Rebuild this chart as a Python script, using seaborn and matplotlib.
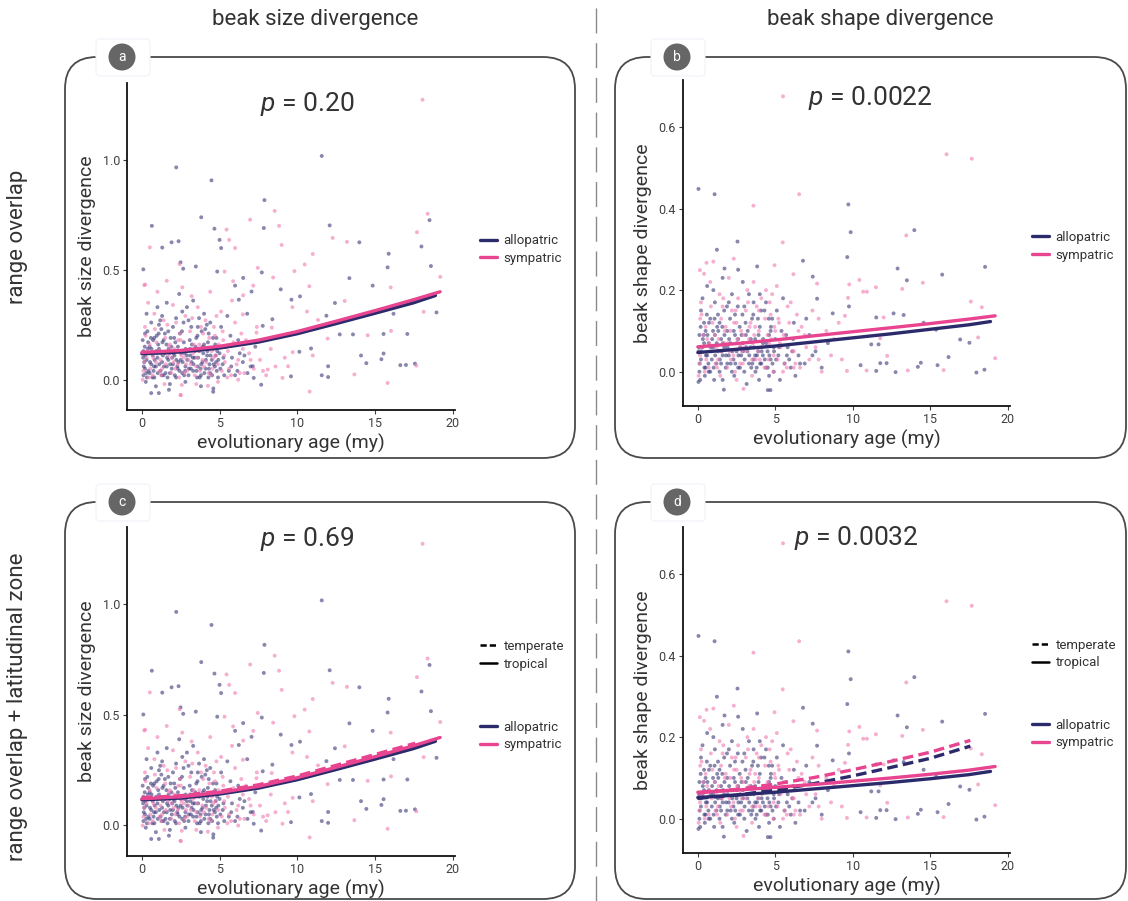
import numpy as np
import pandas as pd
import matplotlib
matplotlib.use('Agg')
import matplotlib.pyplot as plt
import seaborn as sns
from matplotlib.patches import FancyBboxPatch, Circle
from matplotlib.lines import Line2D

# ---- data ----
# beak size divergence vs evolutionary age (panels a and c share the points)
size_allopatric = [
    (11.58, 1.018), (2.21, 0.966), (4.48, 0.907), (7.89, 0.817), (3.82, 0.739), (0.64, 0.700),
    (7.85, 0.690), (12.09, 0.702), (18.52, 0.726), (18.0, 0.606), (4.67, 0.687), (5.0, 0.636),
    (1.91, 0.625), (2.36, 0.630), (1.31, 0.601), (5.10, 0.599), (14.0, 0.625), (15.89, 0.573),
    (15.82, 0.511), (0.09, 0.502), (2.49, 0.534), (2.66, 0.505), (3.47, 0.515), (4.85, 0.492),
    (7.72, 0.488), (8.94, 0.411), (13.36, 0.462), (14.86, 0.428), (18.61, 0.517), (18.97, 0.306),
    (16.2, 0.300), (17.09, 0.208), (15.56, 0.208), (13.59, 0.206), (12.74, 0.206), (12.43, 0.349),
    (11.88, 0.291), (9.63, 0.364), (10.18, 0.379), (14.11, 0.110), (14.45, 0.075), (16.64, 0.066),
    (17.0, 0.067), (17.58, 0.073), (15.56, 0.119), (15.42, 0.093), (11.99, 0.061), (11.58, 0.020),
    (11.99, 0.012), (10.89, 0.142), (10.14, 0.127), (9.6, 0.015), (8.4, 0.275), (7.78, 0.245),
    (6.78, 0.300), (6.24, 0.364), (6.0, 0.428), (6.52, 0.463), (7.06, 0.401), (7.14, 0.061),
    (7.2, 0.008), (7.68, -0.023), (4.59, -0.055), (0.6, -0.061), (1.09, -0.061), (1.74, -0.046),
    (0.1, 0.02), (0.2, 0.05), (0.3, 0.09), (0.1, 0.13), (0.4, 0.17), (0.2, 0.21), (0.5, 0.03),
    (0.6, 0.07), (0.7, 0.11), (0.5, 0.15), (0.8, 0.01), (0.9, 0.06), (1.0, 0.10), (0.8, 0.19),
    (1.1, 0.25), (1.2, 0.04), (1.3, 0.08), (1.1, 0.14), (1.4, 0.02), (1.5, 0.12), (1.6, 0.06),
    (1.4, 0.18), (1.7, 0.09), (1.8, 0.03), (1.9, 0.15), (2.0, 0.07), (1.7, 0.22), (2.1, 0.11),
    (2.2, 0.01), (2.3, 0.05), (2.4, 0.13), (2.5, 0.09), (2.2, 0.28), (2.6, 0.03), (2.7, 0.17),
    (2.8, 0.06), (2.9, 0.11), (3.0, 0.02), (3.1, 0.14), (3.2, 0.08), (2.9, 0.33), (3.3, 0.04),
    (3.4, 0.10), (3.5, 0.19), (3.6, 0.06), (3.7, 0.13), (3.8, 0.02), (3.9, 0.08), (4.0, 0.16),
    (4.1, 0.05), (4.2, 0.11), (4.3, 0.21), (4.4, 0.03), (4.5, 0.09), (4.6, 0.14), (4.7, 0.06),
    (4.8, 0.19), (4.9, 0.01), (5.0, 0.12), (5.2, 0.07), (5.4, 0.15), (5.6, 0.04), (5.8, 0.10),
    (6.0, 0.02), (6.2, 0.18), (6.5, 0.08), (0.3, 0.30), (0.6, 0.26), (1.0, 0.33), (1.3, 0.29),
    (1.6, 0.35), (2.0, 0.24), (2.4, 0.39), (2.6, 0.31), (3.0, 0.27), (3.3, 0.36), (3.6, 0.24),
    (4.0, 0.30), (4.4, 0.26), (5.1, 0.24), (5.5, 0.29), (0.15, 0.08), (0.45, 0.12), (0.75, 0.04),
    (1.05, 0.16), (1.35, 0.11), (1.65, 0.01), (1.95, 0.10), (2.35, 0.08), (2.75, 0.12),
    (3.15, 0.05), (3.55, 0.01), (3.95, 0.12), (4.35, 0.07), (4.75, 0.11), (5.3, 0.02),
    (0.25, -0.01), (0.9, -0.03), (1.8, -0.02), (2.8, -0.01), (3.8, -0.03), (4.6, -0.04),
    (0.05, 0.18), (0.35, 0.22), (0.95, 0.20), (1.25, 0.23), (1.85, 0.19), (2.15, 0.17),
    (2.45, 0.21), (3.45, 0.15), (3.85, 0.22), (4.25, 0.17), (4.85, 0.13), (5.7, 0.20),
    (6.3, 0.12), (7.0, 0.06), (7.3, 0.15), (6.8, 0.03),
]
size_allopatric_dense = [
    (0.12, 0.06), (0.22, 0.11), (0.32, 0.01), (0.42, 0.04), (0.52, 0.08), (0.62, 0.14),
    (0.72, 0.18), (0.82, 0.09), (0.92, 0.13), (1.02, 0.03), (1.12, 0.07), (1.22, 0.12),
    (1.32, 0.17), (1.42, 0.06), (1.52, 0.03), (1.62, 0.10), (1.72, 0.14), (1.82, 0.07),
    (1.92, 0.05), (2.02, 0.12), (2.12, 0.02), (2.22, 0.09), (2.32, 0.15), (2.42, 0.04),
    (2.52, 0.12), (2.62, 0.08), (2.72, 0.02), (2.82, 0.14), (2.92, 0.09), (3.02, 0.05),
    (3.12, 0.11), (3.22, 0.16), (3.32, 0.07), (3.42, 0.13), (3.52, 0.04), (3.62, 0.10),
    (3.72, 0.01), (3.82, 0.07), (3.92, 0.15), (4.02, 0.03), (4.12, 0.09), (4.22, 0.13),
    (4.32, 0.05), (4.42, 0.11), (4.52, 0.02), (4.62, 0.07), (4.72, 0.16), (4.82, 0.04),
    (4.92, 0.09), (5.05, 0.05), (0.18, 0.15), (0.58, 0.19), (1.08, 0.21), (1.58, 0.16),
    (2.08, 0.19), (2.58, 0.22), (3.08, 0.18), (3.58, 0.20), (4.08, 0.23), (4.58, 0.19),
    (0.28, 0.03), (0.78, 0.06), (1.28, 0.02), (1.78, 0.12), (2.28, 0.06), (2.78, 0.04),
    (3.28, 0.10), (3.78, 0.05), (4.28, 0.01), (4.78, 0.08), (5.25, 0.10), (5.75, 0.06),
    (6.15, 0.04), (6.6, 0.11), (0.08, 0.10), (0.38, 0.14), (0.68, 0.01), (0.98, 0.12),
    (1.18, 0.27), (1.48, 0.21), (2.68, 0.26), (3.18, 0.24), (3.68, 0.28), (4.18, 0.25),
]
size_sympatric = [
    (18.07, 1.274), (8.55, 0.768), (6.97, 0.728), (8.83, 0.700), (18.4, 0.755), (17.71, 0.671),
    (5.45, 0.683), (5.62, 0.636), (0.51, 0.602), (6.0, 0.599), (9.0, 0.613), (12.28, 0.645),
    (13.2, 0.627), (11.0, 0.572), (10.48, 0.524), (9.82, 0.494), (0.21, 0.433), (2.43, 0.526),
    (5.32, 0.492), (7.46, 0.509), (8.45, 0.465), (10.78, 0.425), (16.02, 0.420), (19.21, 0.468),
    (18.14, 0.309), (16.04, 0.222), (14.54, 0.202), (11.96, 0.187), (13.06, 0.358), (11.34, 0.272),
    (9.69, 0.330), (10.63, 0.310), (17.67, 0.064), (15.82, -0.015), (13.68, 0.024), (10.8, -0.054),
    (11.0, 0.110), (9.71, 0.125), (9.41, 0.061), (9.05, 0.008), (8.36, 0.237), (7.38, 0.214),
    (6.5, 0.297), (6.52, 0.384), (5.87, 0.448), (7.17, 0.428), (8.1, 0.046), (4.25, -0.028),
    (2.49, -0.07), (2.57, -0.024),
    (0.1, 0.04), (0.3, 0.10), (0.5, 0.16), (0.2, 0.24), (0.7, 0.02), (0.9, 0.08), (1.1, 0.13),
    (0.8, 0.30), (1.3, 0.05), (1.5, 0.19), (1.7, 0.11), (1.4, 0.27), (1.9, 0.03), (2.1, 0.14),
    (2.3, 0.07), (2.0, 0.34), (2.5, 0.18), (2.7, 0.10), (2.9, 0.04), (3.1, 0.22), (3.3, 0.12),
    (3.5, 0.06), (3.2, 0.38), (3.7, 0.16), (3.9, 0.09), (4.1, 0.27), (4.3, 0.03), (4.5, 0.13),
    (4.7, 0.20), (4.9, 0.07), (5.1, 0.31), (5.3, 0.11), (5.6, 0.05), (5.9, 0.17), (6.2, 0.09),
    (6.6, 0.03), (6.9, 0.12), (7.2, 0.05), (7.6, 0.09), (8.0, 0.02), (8.3, 0.14), (0.4, 0.35),
    (1.0, 0.40), (1.6, 0.45), (2.6, 0.42), (3.6, 0.33), (4.4, 0.40), (5.8, 0.36), (0.6, 0.12),
    (1.2, 0.09), (1.8, 0.16), (2.4, 0.01), (3.0, 0.09), (3.4, 0.02), (4.0, 0.06), (4.6, 0.10),
    (5.0, 0.15), (5.5, 0.01), (6.0, 0.26), (6.4, 0.21), (0.15, 0.43), (2.2, 0.26), (2.8, 0.29),
    (3.8, 0.24), (4.8, 0.29), (5.2, 0.22), (6.7, 0.18), (7.4, 0.24), (8.6, 0.06), (9.2, 0.10),
    (0.05, 0.00), (1.45, -0.02), (2.5, -0.07), (3.5, -0.02), (4.9, -0.01), (6.2, 0.00),
]
size_sympatric_dense = [
    (0.14, 0.08), (0.34, 0.13), (0.54, 0.05), (0.74, 0.10), (0.94, 0.17), (1.14, 0.04),
    (1.34, 0.12), (1.54, 0.07), (1.74, 0.15), (1.94, 0.10), (2.14, 0.05), (2.34, 0.18),
    (2.54, 0.11), (2.74, 0.03), (2.94, 0.13), (3.14, 0.07), (3.34, 0.16), (3.54, 0.10),
    (3.74, 0.04), (3.94, 0.14), (4.14, 0.08), (4.34, 0.19), (4.54, 0.05), (4.74, 0.11),
    (4.94, 0.16), (5.14, 0.04), (5.34, 0.08), (5.54, 0.13), (5.74, 0.02), (6.1, 0.07),
    (6.5, 0.14), (7.0, 0.09), (7.8, 0.04), (0.24, 0.20), (0.84, 0.23), (1.64, 0.25),
    (2.44, 0.21), (3.24, 0.28), (3.94, 0.21), (4.64, 0.24), (0.44, 0.01), (1.24, 0.02),
    (2.04, 0.08), (2.84, 0.07), (3.64, 0.13), (4.44, 0.02), (5.24, 0.18), (6.3, 0.03),
]

# beak shape divergence vs evolutionary age (panels b and d share the points)
shape_allopatric = [
    (0.04, 0.448), (1.08, 0.435), (9.72, 0.410), (9.87, 0.342), (13.98, 0.347), (2.56, 0.319),
    (1.23, 0.299), (9.65, 0.281), (6.79, 0.272), (1.72, 0.253), (3.83, 0.258), (18.55, 0.257),
    (12.9, 0.253), (15.78, 0.238), (7.42, 0.233), (13.5, 0.224), (7.7, 0.179), (9.76, 0.160),
    (8.71, 0.143), (12.64, 0.143), (13.29, 0.139), (11.52, 0.133), (14.58, 0.120), (15.39, 0.103),
    (16.94, 0.079), (17.54, 0.071), (16.19, 0.036), (14.4, 0.022), (14.21, 0.012), (15.48, 0.016),
    (17.99, -0.002), (18.51, 0.005), (12.77, -0.001), (11.52, 0.002), (10.51, 0.016),
    (11.78, 0.021), (12.19, 0.021), (11.67, 0.067), (11.2, 0.067), (1.68, -0.044), (4.52, -0.045),
    (4.69, -0.045), (0.04, -0.025),
    (0.1, 0.00), (0.2, 0.03), (0.3, 0.06), (0.1, 0.09), (0.4, 0.12), (0.2, 0.15), (0.5, 0.01),
    (0.6, 0.04), (0.7, 0.07), (0.5, 0.10), (0.8, 0.00), (0.9, 0.03), (1.0, 0.06), (0.8, 0.13),
    (1.1, 0.17), (1.2, 0.02), (1.3, 0.05), (1.1, 0.09), (1.4, 0.00), (1.5, 0.08), (1.6, 0.04),
    (1.4, 0.12), (1.7, 0.06), (1.8, 0.01), (1.9, 0.10), (2.0, 0.04), (1.7, 0.15), (2.1, 0.07),
    (2.2, 0.00), (2.3, 0.03), (2.4, 0.09), (2.5, 0.05), (2.2, 0.19), (2.6, 0.01), (2.7, 0.11),
    (2.8, 0.04), (2.9, 0.07), (3.0, 0.00), (3.1, 0.09), (3.2, 0.05), (2.9, 0.22), (3.3, 0.02),
    (3.4, 0.06), (3.5, 0.13), (3.6, 0.03), (3.7, 0.08), (3.8, 0.01), (3.9, 0.05), (4.0, 0.11),
    (4.1, 0.02), (4.2, 0.07), (4.3, 0.15), (4.4, 0.01), (4.5, 0.05), (4.6, 0.09), (4.7, 0.03),
    (4.8, 0.13), (4.9, 0.00), (5.0, 0.08), (5.2, 0.04), (5.4, 0.10), (5.6, 0.02), (5.8, 0.06),
    (6.0, 0.01), (6.2, 0.12), (6.5, 0.04), (0.3, 0.18), (0.6, 0.21), (1.0, 0.20), (1.3, 0.14),
    (1.6, 0.23), (2.0, 0.17), (2.4, 0.14), (2.6, 0.25), (3.0, 0.16), (3.3, 0.19), (3.6, 0.17),
    (4.0, 0.19), (4.4, 0.17), (5.1, 0.15), (5.5, 0.18), (0.15, -0.02), (0.45, -0.01),
    (1.05, -0.02), (1.6, -0.02), (2.35, -0.01), (3.15, -0.03), (3.95, -0.02), (4.6, -0.01),
    (5.3, -0.02), (6.3, -0.01), (6.9, 0.02), (7.2, 0.09), (7.6, 0.05), (8.0, 0.01), (8.4, 0.07),
    (7.0, 0.13), (0.05, 0.05), (0.7, 0.00), (1.25, 0.11), (1.9, 0.02), (2.75, 0.06), (3.45, 0.01),
    (4.2, 0.04), (4.9, 0.06), (5.7, 0.09), (6.1, 0.05), (0.4, 0.07), (1.5, 0.02), (2.6, 0.08),
    (3.7, 0.04), (4.7, 0.10), (5.9, 0.03),
]
shape_allopatric_dense = [
    (0.12, 0.02), (0.22, 0.05), (0.32, 0.08), (0.42, 0.01), (0.52, 0.04), (0.62, 0.09),
    (0.72, 0.12), (0.82, 0.06), (0.92, 0.08), (1.02, 0.01), (1.12, 0.04), (1.22, 0.07),
    (1.32, 0.10), (1.42, 0.03), (1.52, 0.05), (1.62, 0.07), (1.72, 0.09), (1.82, 0.04),
    (1.92, 0.06), (2.02, 0.08), (2.12, 0.02), (2.22, 0.05), (2.32, 0.10), (2.42, 0.02),
    (2.52, 0.07), (2.62, 0.04), (2.72, 0.01), (2.82, 0.09), (2.92, 0.05), (3.02, 0.03),
    (3.12, 0.06), (3.22, 0.10), (3.32, 0.04), (3.42, 0.08), (3.52, 0.02), (3.62, 0.06),
    (3.72, 0.00), (3.82, 0.04), (3.92, 0.09), (4.02, 0.02), (4.12, 0.05), (4.22, 0.08),
    (4.32, 0.03), (4.42, 0.07), (4.52, 0.01), (4.62, 0.04), (4.72, 0.11), (4.82, 0.02),
    (4.92, 0.05), (5.05, 0.03), (0.18, 0.11), (0.58, 0.14), (1.08, 0.13), (1.58, 0.11),
    (2.08, 0.13), (2.58, 0.16), (3.08, 0.12), (3.58, 0.14), (4.08, 0.15), (4.58, 0.13),
    (5.25, 0.06), (5.75, 0.04), (6.15, 0.08), (6.6, 0.02), (7.4, 0.04), (0.08, 0.06),
    (0.38, 0.09), (0.68, 0.02), (0.98, 0.10), (1.88, 0.16), (2.88, 0.14), (3.88, 0.13),
]
shape_sympatric = [
    (5.5, 0.675), (16.06, 0.533), (17.69, 0.522), (6.54, 0.435), (3.59, 0.407), (13.46, 0.334),
    (5.48, 0.317), (2.32, 0.277), (0.56, 0.267), (0.13, 0.249), (4.95, 0.261), (6.17, 0.239),
    (10.43, 0.225), (9.78, 0.214), (7.70, 0.216), (11.5, 0.207), (13.2, 0.203), (14.53, 0.218),
    (10.68, 0.196), (10.92, 0.196), (9.7, 0.181), (17.63, 0.172), (18.34, 0.158), (9.5, 0.137),
    (12.0, 0.133), (18.1, 0.084), (19.2, 0.033), (15.87, 0.004), (13.56, 0.003), (10.9, 0.003),
    (9.63, 0.002), (12.23, 0.039), (11.78, 0.082), (2.95, -0.042),
    (0.1, 0.02), (0.3, 0.06), (0.5, 0.11), (0.2, 0.17), (0.7, 0.01), (0.9, 0.05), (1.1, 0.09),
    (0.8, 0.22), (1.3, 0.03), (1.5, 0.13), (1.7, 0.07), (1.4, 0.19), (1.9, 0.01), (2.1, 0.10),
    (2.3, 0.04), (2.0, 0.23), (2.5, 0.12), (2.7, 0.06), (2.9, 0.02), (3.1, 0.15), (3.3, 0.08),
    (3.5, 0.03), (3.2, 0.20), (3.7, 0.11), (3.9, 0.05), (4.1, 0.18), (4.3, 0.01), (4.5, 0.09),
    (4.7, 0.14), (4.9, 0.04), (5.1, 0.21), (5.3, 0.07), (5.6, 0.02), (5.9, 0.12), (6.2, 0.05),
    (6.6, 0.01), (6.9, 0.09), (7.2, 0.03), (7.6, 0.06), (8.0, 0.00), (8.3, 0.10), (0.4, 0.24),
    (1.0, 0.27), (1.6, 0.16), (2.6, 0.18), (3.6, 0.22), (4.4, 0.20), (5.8, 0.16), (0.6, 0.08),
    (1.2, 0.06), (1.8, 0.11), (2.4, 0.00), (3.0, 0.06), (3.4, 0.12), (4.0, 0.03), (4.6, 0.07),
    (5.0, 0.10), (5.5, 0.00), (6.0, 0.17), (6.4, 0.14), (0.15, 0.13), (2.2, 0.15), (2.8, 0.10),
    (3.8, 0.16), (4.8, 0.19), (5.2, 0.13), (6.7, 0.11), (7.4, 0.15), (8.6, 0.04), (9.1, 0.12),
    (0.05, -0.01), (1.45, -0.01), (2.5, -0.02), (3.5, -0.01), (4.9, 0.00), (6.2, 0.01),
    (7.8, 0.13), (8.8, 0.08), (9.3, 0.03),
]
shape_sympatric_dense = [
    (0.14, 0.04), (0.34, 0.09), (0.54, 0.03), (0.74, 0.07), (0.94, 0.12), (1.14, 0.02),
    (1.34, 0.08), (1.54, 0.05), (1.74, 0.10), (1.94, 0.07), (2.14, 0.03), (2.34, 0.12),
    (2.54, 0.08), (2.74, 0.02), (2.94, 0.09), (3.14, 0.05), (3.34, 0.11), (3.54, 0.07),
    (3.74, 0.03), (3.94, 0.10), (4.14, 0.06), (4.34, 0.13), (4.54, 0.03), (4.74, 0.08),
    (4.94, 0.11), (5.14, 0.03), (5.34, 0.06), (5.54, 0.09), (5.74, 0.01), (6.1, 0.05),
    (6.5, 0.10), (7.0, 0.06), (7.8, 0.03), (0.24, 0.14), (0.84, 0.16), (1.64, 0.18),
    (2.44, 0.15), (3.24, 0.17), (3.94, 0.15), (4.64, 0.17), (0.44, 0.00), (1.24, 0.01),
    (2.04, 0.05), (2.84, 0.05), (3.64, 0.09), (4.44, 0.01), (5.24, 0.12), (6.3, 0.02),
]

# fitted curves, read at a few ages
fit_age_allo = [0, 2.5, 5, 7.5, 10, 12.5, 15, 17.5, 18.9]
fit_age_sym = [0, 2.5, 5, 7.5, 10, 12.5, 15, 17.5, 19.2]
fit_age_temp = [0, 2.5, 5, 7.5, 10, 12.5, 15, 17.6]

a_allo = [0.118, 0.126, 0.144, 0.171, 0.209, 0.255, 0.302, 0.350, 0.383]
a_sym = [0.124, 0.133, 0.152, 0.180, 0.219, 0.266, 0.314, 0.364, 0.400]

b_allo = [0.047, 0.055, 0.063, 0.073, 0.083, 0.093, 0.104, 0.115, 0.123]
b_sym = [0.061, 0.069, 0.078, 0.088, 0.098, 0.108, 0.118, 0.129, 0.137]

c_allo_trop = [0.116, 0.124, 0.142, 0.169, 0.207, 0.253, 0.300, 0.348, 0.381]
c_sym_trop = [0.121, 0.130, 0.149, 0.177, 0.216, 0.263, 0.311, 0.361, 0.398]
c_allo_temp = [0.121, 0.129, 0.148, 0.176, 0.215, 0.262, 0.310, 0.360]
c_sym_temp = [0.125, 0.135, 0.155, 0.184, 0.224, 0.272, 0.321, 0.372]

d_allo_trop = [0.052, 0.058, 0.065, 0.073, 0.081, 0.089, 0.098, 0.108, 0.116]
d_sym_trop = [0.065, 0.070, 0.077, 0.084, 0.092, 0.100, 0.109, 0.119, 0.128]
d_allo_temp = [0.050, 0.058, 0.070, 0.086, 0.105, 0.126, 0.148, 0.178]
d_sym_temp = [0.063, 0.072, 0.085, 0.101, 0.120, 0.141, 0.163, 0.192]

p_values = ['0.20', '0.0022', '0.69', '0.0032']
panel_letters = ['a', 'b', 'c', 'd']
col_titles = ['beak size divergence', 'beak shape divergence']
row_titles = ['range overlap', 'range overlap + latitudinal zone']

# ---- styling ----
sns.set_theme(style='white')
plt.rcParams['font.family'] = ['Roboto', 'DejaVu Sans']
plt.rcParams['mathtext.fontset'] = 'custom'
plt.rcParams['mathtext.it'] = 'Roboto:italic'
plt.rcParams['mathtext.rm'] = 'Roboto'

navy = '#2b2a6b'
pink = '#e8448f'
pt_pal = {'allopatric': '#3a3878', 'sympatric': '#f07ab2'}
line_pal = {'allopatric': navy, 'sympatric': pink}
text_col = '#333333'
tick_col = '#404040'
fw = 'normal'


def points_df(allo, sym):
    df = pd.DataFrame(allo + sym, columns=['age', 'div'])
    df['overlap'] = ['allopatric'] * len(allo) + ['sympatric'] * len(sym)
    return df


def fit_df(parts):
    rows = []
    for overlap, zone, ages, vals in parts:
        for x, y in zip(ages, vals):
            rows.append((x, y, overlap, zone))
    return pd.DataFrame(rows, columns=['age', 'fit', 'overlap', 'zone'])


size_pts = points_df(size_allopatric + size_allopatric_dense,
                     size_sympatric + size_sympatric_dense)
shape_pts = points_df(shape_allopatric + shape_allopatric_dense,
                      shape_sympatric + shape_sympatric_dense)

fits = [
    fit_df([('allopatric', 'tropical', fit_age_allo, a_allo),
            ('sympatric', 'tropical', fit_age_sym, a_sym)]),
    fit_df([('allopatric', 'tropical', fit_age_allo, b_allo),
            ('sympatric', 'tropical', fit_age_sym, b_sym)]),
    fit_df([('allopatric', 'temperate', fit_age_temp, c_allo_temp),
            ('sympatric', 'temperate', fit_age_temp, c_sym_temp),
            ('allopatric', 'tropical', fit_age_allo, c_allo_trop),
            ('sympatric', 'tropical', fit_age_sym, c_sym_trop)]),
    fit_df([('allopatric', 'temperate', fit_age_temp, d_allo_temp),
            ('sympatric', 'temperate', fit_age_temp, d_sym_temp),
            ('allopatric', 'tropical', fit_age_allo, d_allo_trop),
            ('sympatric', 'tropical', fit_age_sym, d_sym_trop)]),
]

W, H = 1128, 901
fig = plt.figure(figsize=(W / 100, H / 100), dpi=100)
inch = fig.dpi_scale_trans


def px(x, y):
    return x / 100, (H - y) / 100


# rounded panel frames (pixel boxes: left, top, right, bottom)
frames = [(65, 57, 575, 458), (615, 57, 1126, 458), (65, 502, 575, 899), (615, 502, 1126, 899)]
for l, t, r, b in frames:
    x0, y0 = px(l, b)
    fig.patches.append(FancyBboxPatch((x0, y0), (r - l) / 100, (b - t) / 100,
                                      boxstyle='round,pad=0,rounding_size=0.32',
                                      transform=inch, fc='none', ec='#4a4a4a', lw=1.3,
                                      figure=fig))

# axes rectangles in pixels (left, top, right, bottom)
ax_px = [(127, 83, 455, 410), (683, 80, 1010, 406), (127, 527, 455, 856), (683, 527, 1010, 853)]
axes = []
for l, t, r, b in ax_px:
    axes.append(fig.add_axes([l / W, 1 - b / H, (r - l) / W, (b - t) / H]))

pts = [size_pts, shape_pts, size_pts, shape_pts]
ylims = [(-0.138, 1.35), (-0.084, 0.715), (-0.138, 1.35), (-0.084, 0.715)]
yticks = [[0.0, 0.5, 1.0], [0.0, 0.2, 0.4, 0.6], [0.0, 0.5, 1.0], [0.0, 0.2, 0.4, 0.6]]
ylabels = ['beak size divergence', 'beak shape divergence'] * 2
p_pos = [(0.55, 0.935), (0.572, 0.945), (0.55, 0.965), (0.53, 0.965)]

for i, ax in enumerate(axes):
    sns.scatterplot(data=pts[i], x='age', y='div', hue='overlap', palette=pt_pal,
                    s=8, alpha=0.6, linewidth=0, ax=ax, legend=False)
    sns.lineplot(data=fits[i], x='age', y='fit', hue='overlap', style='zone',
                 palette=line_pal, dashes={'tropical': '', 'temperate': (3.2, 1.6)},
                 linewidth=2.4, estimator=None, ax=ax, legend=False)
    ax.set_xlim(-0.96, 20.16)
    ax.set_ylim(*ylims[i])
    ax.set_xticks([0, 5, 10, 15, 20])
    ax.set_yticks(yticks[i])
    ax.set_yticklabels([f'{v:.1f}' for v in yticks[i]])
    ax.tick_params(axis='both', length=3, width=0.8, colors=tick_col, labelsize=9,
                   direction='out', pad=2, left=True, bottom=True)
    for s in ['top', 'right']:
        ax.spines[s].set_visible(False)
    for s in ['left', 'bottom']:
        ax.spines[s].set_color('#111111')
        ax.spines[s].set_linewidth(1.3)
    ax.set_xlabel('evolutionary age (my)', fontsize=14, color=text_col,
                  fontweight=fw, labelpad=3)
    ax.set_ylabel(ylabels[i], fontsize=14, color=text_col, fontweight=fw, labelpad=5)
    ax.set_facecolor('none')
    ax.text(p_pos[i][0], p_pos[i][1], r'$p$ = ' + p_values[i], transform=ax.transAxes,
            ha='center', va='center', fontsize=19, color=text_col, fontweight=fw)

    overlap_handles = [Line2D([], [], color=navy, lw=2.4), Line2D([], [], color=pink, lw=2.4)]
    leg_kw = dict(loc='center left', frameon=False, fontsize=9.5, handlelength=1.3,
                  handletextpad=0.5, labelspacing=0.35)
    anchor_x = 1.04 if i % 2 == 0 else 1.03
    if i < 2:
        leg = ax.legend(overlap_handles, ['allopatric', 'sympatric'],
                        bbox_to_anchor=(anchor_x, 0.49), **leg_kw)
        for t in leg.get_texts():
            t.set_color(text_col)
    else:
        zone_handles = [Line2D([], [], color='black', lw=1.8, ls=(0, (2.5, 1.2))),
                        Line2D([], [], color='black', lw=1.8)]
        leg1 = ax.legend(zone_handles, ['temperate', 'tropical'],
                         bbox_to_anchor=(anchor_x, 0.61), **leg_kw)
        ax.add_artist(leg1)
        leg2 = ax.legend(overlap_handles, ['allopatric', 'sympatric'],
                         bbox_to_anchor=(anchor_x, 0.365), **leg_kw)
        for t in list(leg1.get_texts()) + list(leg2.get_texts()):
            t.set_color(text_col)

# letter badges
badges = [(122, 57), (677, 57), (122, 502), (677, 502)]
for (bx, by), letter in zip(badges, panel_letters):
    x0, y0 = px(bx - 26, by + 19)
    fig.patches.append(FancyBboxPatch((x0, y0), 0.54, 0.37,
                                      boxstyle='round,pad=0,rounding_size=0.04',
                                      transform=inch, fc='white', ec='#f2f2f8', lw=0.8,
                                      figure=fig, zorder=5))
    cx, cy = px(bx, by)
    fig.patches.append(Circle((cx, cy), 0.135, transform=inch, fc='#666666', ec='none',
                              figure=fig, zorder=6))
    fig.text(cx / (W / 100), cy / (H / 100), letter, ha='center', va='center',
             color='white', fontsize=10, zorder=7)

# column titles, row titles, separator
fig.text(315 / W, 1 - 20 / H, col_titles[0], ha='center', va='center', fontsize=16,
         color=text_col, fontweight=fw)
fig.text(880 / W, 1 - 20 / H, col_titles[1], ha='center', va='center', fontsize=16,
         color=text_col, fontweight=fw)
fig.text(18 / W, 1 - 237 / H, row_titles[0], ha='center', va='center', rotation=90,
         fontsize=16, color=text_col, fontweight=fw)
fig.text(18 / W, 1 - 707 / H, row_titles[1], ha='center', va='center', rotation=90,
         fontsize=16, color=text_col, fontweight=fw)
fig.add_artist(Line2D([596 / W, 596 / W], [0, 1], transform=fig.transFigure,
                      color='#8a8a8a', lw=1, ls=(0, (18, 7))))

fig.savefig('out.png', dpi=100)
